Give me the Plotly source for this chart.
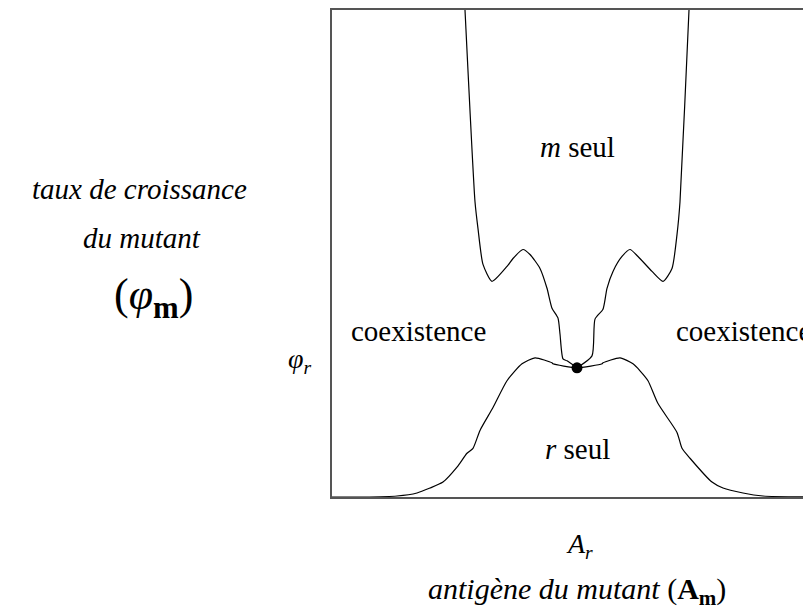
import plotly.graph_objects as go

# Antigen of the mutant relative to A_r (x) and growth rate of the mutant (y)
# Upper boundary: "m seul" region (left and right branches)
upper_left_x = [-1.125, -1.12, -1.02, -0.99, -0.94, -0.85, -0.70, -0.64, -0.54,
                -0.47, -0.37, -0.30, -0.25, -0.19, -0.17, -0.14, -0.10, 0.0]
upper_left_y = [5.0, 4.90, 2.97, 2.70, 2.34, 2.17, 2.32, 2.40, 2.49,
                2.44, 2.30, 2.10, 1.90, 1.80, 1.64, 1.39, 1.37, 1.30]
upper_right_x = [0.0, 0.15, 0.18, 0.26, 0.30, 0.36, 0.45, 0.53, 0.61,
                 0.75, 0.86, 0.95, 1.00, 1.03, 1.12, 1.125]
upper_right_y = [1.30, 1.42, 1.79, 1.89, 2.10, 2.27, 2.42, 2.49, 2.42,
                 2.27, 2.17, 2.30, 2.64, 2.97, 4.90, 5.0]

# Lower boundary: "r seul" region
lower_x = [-2.45, -2.14, -1.80, -1.60, -1.47, -1.34, -1.20, -1.10, -1.04,
           -0.97, -0.84, -0.70, -0.55, -0.42, -0.25, -0.24, 0.0,
           0.25, 0.26, 0.43, 0.56, 0.63, 0.71, 0.81, 1.00, 1.05, 1.13,
           1.35, 1.46, 1.66, 1.86, 2.34]
lower_y = [0.0, 0.0, 0.01, 0.04, 0.09, 0.15, 0.30, 0.44, 0.49,
           0.67, 0.90, 1.17, 1.34, 1.40, 1.35, 1.34, 1.30,
           1.34, 1.35, 1.40, 1.34, 1.27, 1.17, 0.94, 0.65, 0.49, 0.39,
           0.15, 0.09, 0.04, 0.01, 0.0]

# Resident point (A_r, phi_r)
resident_x = [0.0]
resident_y = [1.30]

x_range = [-2.45, 2.34]
y_range = [0.0, 4.90]

line_style = dict(color="black", width=1.2, shape="spline", smoothing=0.6)

fig = go.Figure()
fig.add_trace(go.Scatter(x=upper_left_x, y=upper_left_y, mode="lines", line=line_style))
fig.add_trace(go.Scatter(x=upper_right_x, y=upper_right_y, mode="lines", line=line_style))
fig.add_trace(go.Scatter(x=lower_x, y=lower_y, mode="lines", line=line_style))
fig.add_trace(go.Scatter(x=resident_x, y=resident_y, mode="markers",
                         marker=dict(color="black", size=11), cliponaxis=False))

serif = "Liberation Serif"

# page body has an 8px margin
OFF = 8
W, H = 803, 605
ML, MR, MT, MB = 324, 0, 0, 116
pl, pr = OFF + ML, OFF + W - MR
pt, pb = OFF + MT, OFF + H - MB

ann = []

def add_data(text, x, y, size):
    ann.append(dict(text=text, x=x, y=y, xref="x", yref="y", showarrow=False,
                    xanchor="center", yanchor="middle",
                    font=dict(family=serif, size=size, color="black")))

def add_px(text, xp, yp, size):
    ann.append(dict(text=text, x=(xp - pl) / (pr - pl), y=(pb - yp) / (pb - pt),
                    xref="paper", yref="paper", showarrow=False,
                    xanchor="center", yanchor="middle",
                    font=dict(family=serif, size=size, color="black")))

# region labels (data coords)
add_data("<i>m</i> seul", 0.0, 3.52, 29)
add_data("<i>r</i> seul", 0.0, 0.48, 29)
add_data("coexistence", -1.59, 1.67, 29)
add_data("coexistence", 1.665, 1.67, 29)

# labels outside the plot (screen pixels)
add_px("<i>taux de croissance</i>", 139, 188, 29)
add_px("<i>du mutant</i>", 142, 237, 29)
add_px("(<i>φ</i><sub><b>m</b></sub>)", 153, 297, 44)
add_px("<i>φ<sub>r</sub></i>", 300, 360, 28)
add_px("<i>A<sub>r</sub></i>", 579, 546, 28)
add_px("<i>antigène du mutant</i> (<b>A<sub>m</sub></b>)", 577, 591, 30)

fig.update_layout(
    width=W, height=H,
    margin=dict(l=ML, r=MR, t=MT, b=MB, pad=0),
    plot_bgcolor="white", paper_bgcolor="white",
    showlegend=False,
    annotations=ann,
    xaxis=dict(range=x_range, showgrid=False, zeroline=False, showticklabels=False,
               ticks="", showline=True, linecolor="#555", linewidth=2, mirror=True),
    yaxis=dict(range=y_range, showgrid=False, zeroline=False, showticklabels=False,
               ticks="", showline=True, linecolor="#555", linewidth=2),
)

fig.write_html("out.html")
